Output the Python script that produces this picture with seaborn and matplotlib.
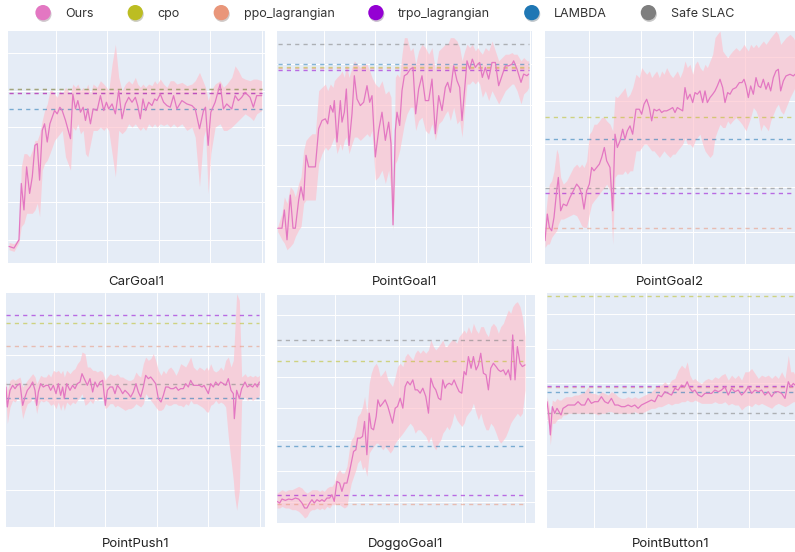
import matplotlib
matplotlib.use('Agg')
import matplotlib.pyplot as plt
import matplotlib.patheffects as pe
from matplotlib.lines import Line2D
import seaborn as sns

# Legend entries and colours
algos = ['Ours', 'cpo', 'ppo_lagrangian', 'trpo_lagrangian', 'LAMBDA', 'Safe SLAC']
algo_colors = ['#e377c2', '#bcbd22', '#e9967a', '#9400d3', '#1f77b4', '#7f7f7f']
band_color = 'pink'

# Values (arbitrary units, no tick labels in the original)
# --- CarGoal1
car_x = [25, 40, 55, 62, 70, 78, 87, 95, 103, 110, 117, 125, 132, 140, 148, 155, 162, 170, 178, 185,
         195, 210, 217, 225, 232, 240, 248, 255, 262, 270, 278, 290, 300, 310, 318, 325, 335, 345, 355, 365,
         375, 385, 395, 405, 412, 420, 428, 436, 445, 455, 463, 470, 480, 490, 500, 510, 520, 530, 545, 560,
         575, 585, 598, 610, 616, 624, 632, 645, 660, 670, 680, 695, 705, 715, 725, 735, 750, 760, 770, 785]
car_mean = [50, 45, 70, 240, 160, 290, 210, 260, 355, 360, 250, 400, 420, 365, 420, 440, 460, 450, 470, 460,
            430, 375, 510, 465, 490, 455, 470, 430, 465, 420, 465, 460, 505, 460, 485, 465, 480, 450, 520, 435,
            480, 500, 485, 500, 475, 435, 495, 460, 485, 475, 495, 490, 510, 485, 475, 470, 505, 465, 490, 480,
            475, 465, 405, 460, 470, 355, 455, 485, 540, 465, 480, 465, 505, 490, 500, 515, 500, 470, 505, 505]
car_lo = [40, 35, 62, 110, 120, 150, 150, 150, 160, 180, 140, 280, 300, 310, 330, 350, 370, 380, 390, 400,
          320, 280, 410, 400, 420, 390, 400, 330, 320, 360, 400, 400, 410, 400, 410, 400, 330, 260, 400, 390,
          400, 420, 410, 420, 410, 400, 410, 400, 420, 410, 420, 410, 420, 415, 420, 410, 420, 410, 420, 400,
          410, 380, 230, 380, 400, 210, 330, 410, 420, 400, 400, 410, 420, 430, 440, 450, 440, 430, 450, 460]
car_hi = [62, 58, 75, 290, 330, 330, 320, 340, 370, 370, 390, 430, 460, 480, 520, 520, 510, 500, 520, 510,
          530, 510, 540, 530, 540, 520, 530, 520, 540, 510, 540, 530, 550, 540, 530, 520, 600, 660, 560, 520,
          540, 550, 540, 560, 540, 530, 540, 530, 540, 535, 550, 540, 555, 540, 530, 550, 550, 540, 545, 535,
          540, 550, 575, 545, 530, 490, 520, 540, 550, 530, 540, 560, 595, 580, 560, 555, 550, 555, 555, 550]
car_base = [525, 512, 512, 465, 525]

# --- PointGoal1
pg1_x = [22, 35, 42, 50, 60, 68, 75, 85, 92, 100, 107, 115, 125, 135, 145, 155, 165, 172, 180, 188,
         192, 200, 210, 215, 222, 228, 236, 245, 252, 260, 270, 280, 290, 298, 305, 315, 325, 335, 345, 355,
         362, 368, 375, 380, 388, 395, 402, 410, 420, 428, 436, 445, 455, 465, 475, 485, 495, 505, 515, 525,
         532, 540, 550, 560, 568, 575, 583, 590, 598, 606, 615, 622, 628, 636, 645, 655, 665, 675, 685, 695,
         705, 715, 725, 730, 740, 752, 760, 770, 775]
pg1_mean = [105, 105, 160, 70, 205, 105, 105, 190, 230, 190, 325, 290, 290, 290, 405, 430, 435, 420, 475, 455,
            490, 365, 490, 425, 455, 525, 355, 450, 565, 495, 475, 485, 535, 485, 505, 320, 400, 455, 370, 425,
            360, 115, 400, 455, 415, 520, 565, 570, 585, 590, 450, 525, 565, 490, 490, 555, 390, 505, 460, 530,
            545, 515, 595, 550, 530, 430, 525, 610, 585, 615, 590, 600, 605, 560, 590, 555, 605, 605, 535, 565,
            595, 595, 600, 610, 585, 545, 570, 565, 570]
pg1_lo = [95, 70, 60, 40, 50, 60, 80, 100, 110, 180, 190, 190, 190, 190, 300, 330, 350, 340, 350, 370,
          380, 330, 360, 340, 370, 380, 330, 360, 380, 380, 370, 380, 390, 380, 400, 250, 260, 280, 240, 280,
          220, 100, 300, 310, 340, 380, 420, 450, 470, 470, 400, 430, 440, 400, 390, 420, 370, 420, 430, 450,
          460, 430, 470, 420, 430, 380, 470, 540, 540, 550, 540, 550, 540, 500, 520, 490, 520, 500, 480, 500,
          520, 530, 540, 540, 520, 480, 510, 520, 530]
pg1_hi = [110, 150, 200, 180, 230, 220, 200, 240, 260, 340, 370, 380, 390, 390, 520, 530, 540, 520, 540, 530,
          550, 560, 570, 580, 560, 600, 560, 590, 610, 600, 590, 600, 600, 580, 560, 540, 530, 550, 510, 520,
          500, 150, 560, 570, 560, 630, 680, 680, 640, 650, 600, 640, 660, 650, 630, 650, 580, 640, 650, 660,
          660, 680, 680, 670, 650, 610, 640, 660, 650, 660, 640, 650, 640, 630, 650, 640, 670, 640, 610, 620,
          630, 630, 635, 630, 630, 610, 620, 610, 610]
pg1_base = [590, 588, 581, 601, 662]

# --- PointGoal2
pg2_x = [15, 22, 28, 35, 42, 50, 55, 62, 70, 80, 90, 100, 110, 118, 125, 132, 140, 148, 155, 162,
         170, 178, 185, 193, 200, 210, 218, 225, 232, 240, 248, 255, 262, 270, 278, 288, 298, 305, 312, 320,
         328, 335, 342, 350, 358, 365, 372, 380, 390, 398, 405, 412, 420, 428, 435, 442, 450, 458, 465, 472,
         480, 488, 495, 502, 510, 518, 525, 532, 540, 548, 555, 563, 570, 578, 588, 598, 606, 612, 618, 625,
         632, 640, 648, 655, 662, 670, 678, 685, 692, 700, 708, 715, 722, 730, 738, 750, 760, 765]
pg2_mean = [70, 150, 110, 100, 140, 220, 260, 160, 180, 175, 200, 220, 240, 230, 210, 165, 220, 240, 290, 280,
            290, 300, 320, 350, 310, 290, 160, 390, 350, 370, 405, 375, 400, 415, 390, 465, 465, 450, 480, 495,
            470, 430, 465, 460, 465, 455, 460, 460, 465, 470, 455, 470, 465, 460, 530, 495, 510, 485, 515, 510,
            520, 485, 520, 485, 500, 510, 520, 535, 555, 530, 485, 515, 510, 525, 530, 545, 545, 555, 535, 500,
            535, 510, 560, 535, 530, 555, 525, 545, 520, 560, 580, 585, 520, 550, 565, 570, 565, 570]
pg2_lo = [50, 60, 60, 80, 90, 100, 120, 135, 135, 140, 145, 150, 145, 130, 115, 110, 110, 150, 180, 190,
          200, 210, 220, 230, 240, 220, 60, 260, 270, 270, 270, 280, 270, 280, 280, 340, 340, 350, 360, 360,
          350, 340, 340, 330, 320, 330, 340, 330, 320, 330, 330, 340, 350, 360, 380, 360, 360, 350, 370, 380,
          390, 360, 340, 330, 320, 330, 380, 400, 420, 410, 410, 430, 420, 430, 440, 430, 420, 410, 400, 420,
          440, 470, 460, 440, 400, 420, 410, 400, 430, 450, 470, 480, 460, 450, 470, 500, 520, 530]
pg2_hi = [130, 200, 240, 250, 280, 345, 330, 260, 240, 250, 270, 290, 300, 290, 300, 290, 310, 390, 400, 420,
          420, 430, 440, 440, 430, 420, 400, 505, 500, 510, 520, 530, 500, 510, 530, 570, 560, 590, 580, 570,
          580, 560, 570, 580, 560, 580, 570, 590, 570, 560, 570, 580, 560, 580, 610, 590, 600, 570, 600, 610,
          590, 580, 600, 590, 610, 630, 680, 690, 700, 640, 630, 620, 630, 640, 650, 640, 650, 660, 650, 640,
          660, 650, 660, 650, 660, 670, 660, 670, 680, 690, 700, 690, 660, 670, 680, 690, 680, 670]
pg2_base = [442, 108, 213, 375, 228]

# --- PointPush1
pp1_x = [18, 22, 30, 38, 45, 52, 60, 68, 75, 82, 90, 98, 105, 110, 115, 122, 130, 138, 145, 152,
         160, 168, 175, 182, 188, 193, 200, 210, 218, 225, 232, 240, 246, 255, 262, 270, 278, 285, 292, 300,
         308, 316, 322, 330, 338, 345, 352, 360, 368, 375, 385, 392, 400, 408, 415, 422, 430, 437, 445, 452,
         460, 467, 475, 483, 490, 497, 505, 512, 520, 528, 535, 542, 550, 557, 565, 572, 580, 590, 598, 606,
         612, 620, 625, 632, 640, 647, 655, 662, 670, 677, 685, 693, 700, 703, 710, 718, 725, 735, 742, 750,
         758, 765, 772, 778]
pp1_mean = [420, 360, 410, 425, 415, 425, 430, 365, 390, 410, 420, 435, 410, 365, 405, 430, 420, 425, 425, 410,
            425, 400, 430, 395, 420, 385, 430, 410, 425, 415, 430, 435, 460, 440, 425, 445, 405, 435, 420, 435,
            440, 365, 410, 420, 420, 400, 425, 415, 400, 410, 400, 390, 405, 430, 405, 390, 420, 455, 445, 450,
            440, 430, 385, 375, 395, 420, 420, 415, 415, 420, 410, 415, 415, 430, 420, 440, 425, 425, 425, 420,
            425, 410, 400, 430, 420, 435, 425, 435, 430, 425, 445, 410, 400, 325, 410, 385, 415, 435, 420, 425,
            420, 430, 420, 435]
pp1_lo = [380, 310, 360, 380, 375, 385, 380, 325, 350, 370, 375, 385, 370, 340, 365, 380, 375, 380, 375, 365,
          370, 355, 375, 350, 370, 350, 375, 365, 375, 370, 380, 390, 400, 365, 370, 380, 370, 385, 380, 385,
          385, 355, 360, 370, 370, 360, 365, 360, 355, 350, 355, 355, 360, 370, 365, 360, 370, 400, 390, 380,
          370, 360, 350, 350, 355, 370, 365, 365, 370, 370, 365, 365, 360, 370, 365, 380, 370, 370, 365, 360,
          355, 345, 345, 365, 370, 380, 370, 375, 370, 360, 270, 200, 140, 100, 50, 110, 380, 390, 380, 385,
          380, 385, 385, 395]
pp1_hi = [440, 410, 440, 445, 440, 445, 450, 420, 430, 440, 450, 460, 450, 430, 440, 455, 450, 450, 460, 450,
          470, 465, 470, 460, 470, 450, 470, 460, 470, 475, 490, 500, 525, 520, 480, 480, 470, 470, 465, 470,
          465, 440, 450, 460, 455, 455, 460, 450, 450, 445, 440, 440, 445, 465, 455, 450, 490, 510, 500, 505,
          520, 500, 470, 455, 470, 460, 475, 480, 470, 455, 470, 490, 485, 480, 495, 510, 480, 470, 480, 475,
          470, 480, 470, 490, 470, 465, 470, 480, 470, 500, 510, 480, 500, 560, 700, 680, 450, 460, 450, 455,
          450, 455, 450, 455]
pp1_base = [612, 542, 635, 388, 428]

# --- DoggoGoal1
dg1_x = [20, 28, 35, 45, 55, 65, 75, 85, 95, 103, 110, 118, 125, 132, 140, 148, 155, 162, 170, 178,
         185, 192, 200, 208, 215, 222, 230, 237, 243, 250, 257, 262, 270, 277, 283, 290, 297, 303, 310, 318,
         323, 330, 338, 345, 353, 360, 367, 375, 382, 390, 398, 405, 412, 420, 428, 435, 442, 450, 458, 467,
         475, 482, 490, 497, 505, 512, 518, 525, 530, 537, 545, 552, 560, 567, 575, 582, 588, 595, 603, 610,
         618, 625, 632, 640, 648, 655, 662, 670, 678, 685, 692, 700, 707, 715, 722, 728, 735, 742, 750, 757,
         765]
dg1_mean = [65, 60, 72, 68, 72, 70, 75, 72, 60, 45, 45, 60, 70, 60, 70, 65, 70, 65, 75, 75,
            85, 65, 125, 120, 95, 120, 120, 150, 180, 215, 220, 255, 255, 260, 305, 205, 330, 285, 280, 320,
            370, 350, 360, 370, 350, 325, 300, 345, 350, 375, 345, 410, 425, 415, 430, 400, 400, 390, 405, 380,
            330, 435, 410, 400, 375, 370, 430, 405, 415, 420, 415, 430, 410, 395, 390, 455, 445, 500, 465, 500,
            460, 475, 510, 450, 445, 400, 465, 480, 470, 460, 455, 460, 445, 460, 430, 565, 430, 530, 480, 470,
            475]
dg1_lo = [45, 45, 50, 45, 45, 40, 40, 35, 25, 15, 20, 35, 40, 40, 45, 40, 45, 40, 50, 45,
          55, 55, 60, 55, 50, 45, 50, 90, 120, 140, 160, 180, 190, 160, 170, 140, 210, 220, 230, 240,
          240, 230, 220, 230, 220, 210, 220, 240, 250, 260, 270, 280, 290, 300, 290, 270, 280, 280, 270, 260,
          240, 260, 230, 220, 240, 250, 270, 280, 290, 280, 300, 330, 310, 300, 290, 300, 320, 330, 340, 360,
          330, 310, 330, 300, 280, 280, 300, 290, 270, 250, 240, 250, 260, 280, 300, 310, 320, 330, 320, 330,
          400]
dg1_hi = [90, 95, 100, 95, 100, 100, 105, 110, 105, 95, 90, 95, 100, 100, 100, 95, 100, 95, 105, 110,
          110, 120, 150, 160, 150, 150, 170, 220, 250, 260, 290, 320, 330, 350, 380, 330, 420, 450, 470, 480,
          470, 440, 450, 460, 430, 420, 410, 440, 470, 480, 470, 500, 510, 500, 490, 510, 520, 510, 520, 510,
          520, 550, 530, 520, 530, 540, 550, 530, 530, 540, 550, 550, 540, 560, 570, 580, 570, 590, 570, 600,
          580, 570, 590, 590, 570, 560, 590, 600, 590, 570, 590, 600, 620, 640, 630, 650, 660, 665, 650, 620,
          560]
dg1_base = [487, 58, 85, 232, 550]

# --- PointButton1
pb1_x = [22, 28, 32, 38, 45, 52, 58, 64, 70, 78, 85, 95, 105, 115, 125, 135, 145, 155, 165, 175,
         185, 195, 205, 215, 225, 235, 245, 255, 265, 275, 285, 295, 305, 315, 325, 335, 345, 355, 365, 375,
         385, 395, 405, 415, 425, 435, 442, 450, 458, 465, 475, 485, 495, 505, 515, 525, 535, 545, 555, 565,
         575, 585, 595, 605, 615, 625, 635, 645, 655, 665, 675, 685, 695, 705, 715, 725, 735, 745, 752, 760,
         765]
pb1_mean = [380, 335, 280, 365, 345, 360, 350, 340, 360, 365, 370, 370, 370, 380, 370, 370, 390, 375, 380, 380,
            395, 380, 375, 390, 370, 370, 365, 365, 370, 365, 370, 360, 370, 375, 380, 385, 380, 400, 395, 410,
            405, 400, 420, 415, 430, 425, 440, 420, 410, 415, 400, 395, 405, 405, 405, 415, 410, 415, 425, 400,
            420, 410, 415, 400, 410, 425, 405, 415, 410, 415, 400, 410, 395, 410, 410, 405, 390, 440, 425, 435,
            430]
pb1_lo = [335, 300, 250, 315, 315, 325, 330, 330, 340, 340, 345, 345, 345, 345, 345, 345, 345, 345, 345, 340,
          345, 345, 350, 350, 345, 345, 345, 345, 345, 345, 350, 345, 345, 350, 355, 360, 360, 365, 365, 370,
          375, 370, 375, 375, 380, 380, 385, 380, 380, 385, 380, 375, 375, 375, 375, 380, 375, 375, 380, 370,
          375, 370, 370, 355, 365, 370, 365, 375, 370, 375, 370, 365, 360, 370, 375, 370, 365, 370, 375, 380,
          380]
pb1_hi = [395, 370, 340, 385, 380, 390, 385, 385, 390, 395, 395, 395, 400, 400, 405, 410, 425, 405, 405, 400,
          410, 405, 400, 410, 405, 395, 390, 390, 395, 390, 395, 390, 395, 400, 405, 410, 420, 430, 430, 440,
          430, 445, 450, 475, 490, 480, 500, 460, 445, 450, 440, 435, 445, 450, 445, 455, 450, 460, 465, 445,
          460, 450, 460, 445, 470, 470, 480, 465, 450, 460, 455, 460, 450, 460, 450, 470, 450, 520, 470, 470,
          460]
pb1_base = [697, 423, 428, 408, 347]

# Panel layout in pixels (left, top, right, bottom) of a 795x552 canvas, plus title centre y
W, H = 795, 552
panels = [
    ('CarGoal1', car_x, car_mean, car_lo, car_hi, car_base, (8, 31, 265, 263), 282, (22, 795), 700,
     [165, 320, 475, 630, 785], [68, 183, 295, 410, 520, 635]),
    ('PointGoal1', pg1_x, pg1_mean, pg1_lo, pg1_hi, pg1_base, (277, 31, 532, 263), 282, (20, 785), 700,
     [160, 315, 468, 622, 778], [110, 233, 355, 478, 600]),
    ('PointGoal2', pg2_x, pg2_mean, pg2_lo, pg2_hi, pg2_base, (545, 31, 795, 264), 282, (15, 765), 700,
     [148, 303, 460, 615], [95, 230, 360, 490, 622]),
    ('PointPush1', pp1_x, pp1_mean, pp1_lo, pp1_hi, pp1_base, (6, 293, 265, 527), 544, (18, 795), 702,
     [163, 316, 470, 625, 780], [110, 245, 380, 515]),
    ('DoggoGoal1', dg1_x, dg1_mean, dg1_lo, dg1_hi, dg1_base, (277, 295, 535, 523), 544, (20, 795), 685,
     [195, 385, 575, 765], [63, 157, 250, 345, 438, 532, 625]),
    ('PointButton1', pb1_x, pb1_mean, pb1_lo, pb1_hi, pb1_base, (547, 293, 795, 528), 544, (22, 765), 707,
     [163, 320, 472, 628], [115, 220, 325, 435, 540, 645]),
]

sns.set_theme(style='darkgrid', rc={
    'axes.facecolor': '#e5ecf6',
    'grid.color': 'white',
    'grid.linewidth': 0.7,
})
plt.rcParams['font.family'] = ['Inter', 'DejaVu Sans']

fig = plt.figure(figsize=(W / 100, H / 100), dpi=100)

for name, x, mean, lo, hi, base, box, title_y, xlim, ytop, xt, yt in panels:
    l, t, r, b = box
    ax = fig.add_axes([l / W, 1 - b / H, (r - l) / W, (b - t) / H])
    ax.fill_between(x, lo, hi, color=band_color, alpha=0.65, linewidth=0)
    # baselines: cpo, ppo, trpo, lambda, slac
    for val, c in zip(base, algo_colors[1:]):
        ax.hlines(val, x[0], x[-1], colors=c, linestyles=(0, (3, 3)), linewidth=1.0, alpha=0.55)
    sns.lineplot(x=x, y=mean, ax=ax, color=algo_colors[0], linewidth=0.9)
    ax.set_xlim(*xlim)
    ax.set_ylim(0, ytop)
    ax.set_xticks(xt)
    ax.set_yticks(yt)
    ax.set_xticklabels([])
    ax.set_yticklabels([])
    ax.tick_params(length=0, pad=0)
    ax.set_xlabel('')
    ax.set_ylabel('')
    for s in ax.spines.values():
        s.set_visible(False)
    fig.text((l + r) / 2 / W, 1 - title_y / H, name, ha='center', va='center',
             fontsize=9.5, color='#222222')

handles = [Line2D([], [], linestyle='none', marker='o', markersize=11, markerfacecolor=c,
                  markeredgewidth=0,
                  path_effects=[pe.SimplePatchShadow(offset=(0.6, -1.2), alpha=0.25), pe.Normal()])
           for c in algo_colors]
fig.legend(handles, algos, loc='center', bbox_to_anchor=(0.481, 1 - 14 / H), ncol=6, frameon=False,
           fontsize=9, handletextpad=0.8, columnspacing=2.3, labelcolor='#333333',
           borderpad=0, borderaxespad=0)

fig.savefig('out.png', dpi=100)
